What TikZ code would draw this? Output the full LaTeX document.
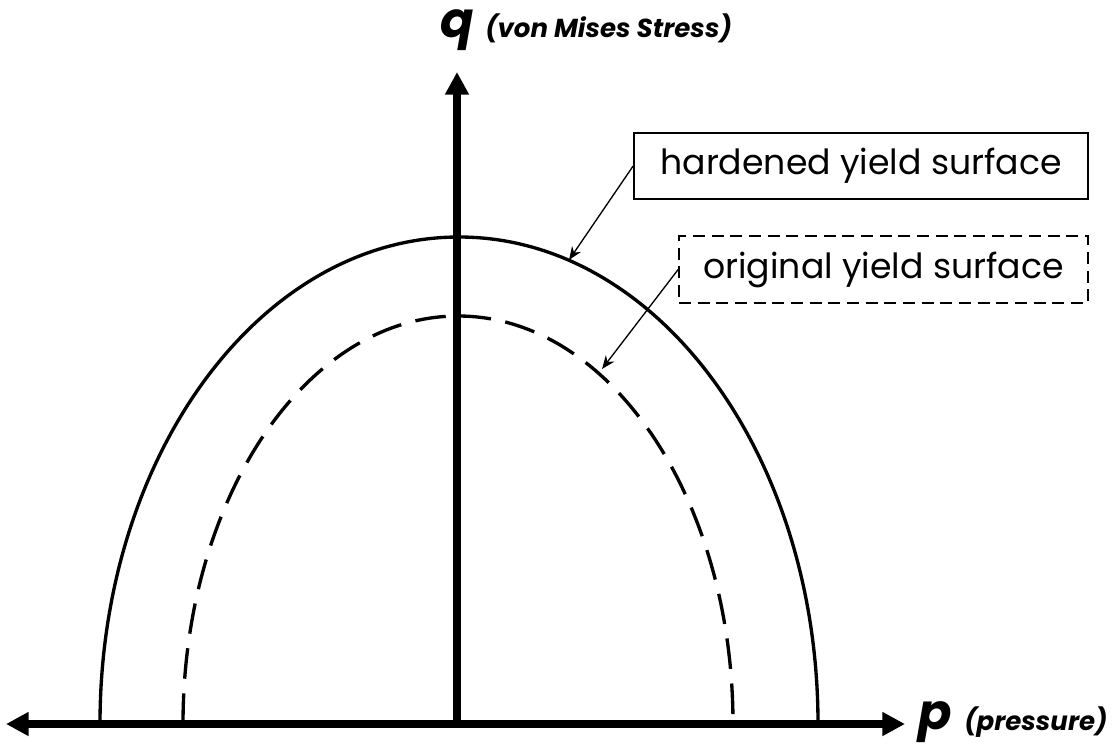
\documentclass[tikz,border=0pt]{standalone}
\usepackage{fontspec}
\setmainfont{Poppins}
\usetikzlibrary{arrows.meta}
\begin{document}
\begin{tikzpicture}[x=0.75pt,y=-0.75pt,
  axis/.style={line width=5.5pt,-{Triangle[length=17pt,width=17pt]}},
  surf/.style={line width=2.5pt},
  surfdash/.style={line width=2.5pt,dash pattern=on 23pt off 11pt},
  labelbox/.style={draw,line width=1.3pt,minimum height=50pt,inner sep=0pt,font=\fontsize{26}{30}\selectfont},
  leader/.style={line width=1pt,-{Stealth[length=10pt,width=8pt]}},
  axvar/.style={font=\fontsize{37}{40}\selectfont\bfseries\itshape,inner sep=0pt},
  axname/.style={font=\fontsize{19.5}{22}\selectfont\bfseries\itshape,inner sep=0pt,anchor=west}
]
\useasboundingbox (0,0) rectangle (1112,749);
% axes
\coordinate (O) at (457,724);
\coordinate (L) at (6,724);
\coordinate (R) at (905,724);
\coordinate (T) at (457,72);
\draw[axis] (O) -- (R);
\draw[axis] (O) -- (L);
\draw[axis] ([yshift=2.7pt]O) -- (T);
% yield surfaces
\draw[surf] (100,724) arc[start angle=180,end angle=360,x radius=359,y radius=487];
\draw[surfdash] (183,724) arc[start angle=180,end angle=360,x radius=275,y radius=408];
% points on surfaces
\coordinate (hp) at (569,260);
\coordinate (op) at (602,369);
% label boxes
\node[labelbox,minimum width=340.5pt] (hb) at (861,166) {hardened yield surface};
\node[labelbox,minimum width=306.75pt,dash pattern=on 9pt off 5pt] (ob) at (883.5,269.5) {original yield surface};
\draw[leader] (hb.west) -- (hp);
\draw[leader] (ob.west) -- (op);
% axis labels
\node[axvar] (q) at (457,30) {q};
\node[axname] (qn) at (485,28) {(von Mises Stress)};
\node[axvar] (p) at (935,722) {p};
\node[axname] (pn) at (964,722) {(pressure)};
\end{tikzpicture}
\end{document}
